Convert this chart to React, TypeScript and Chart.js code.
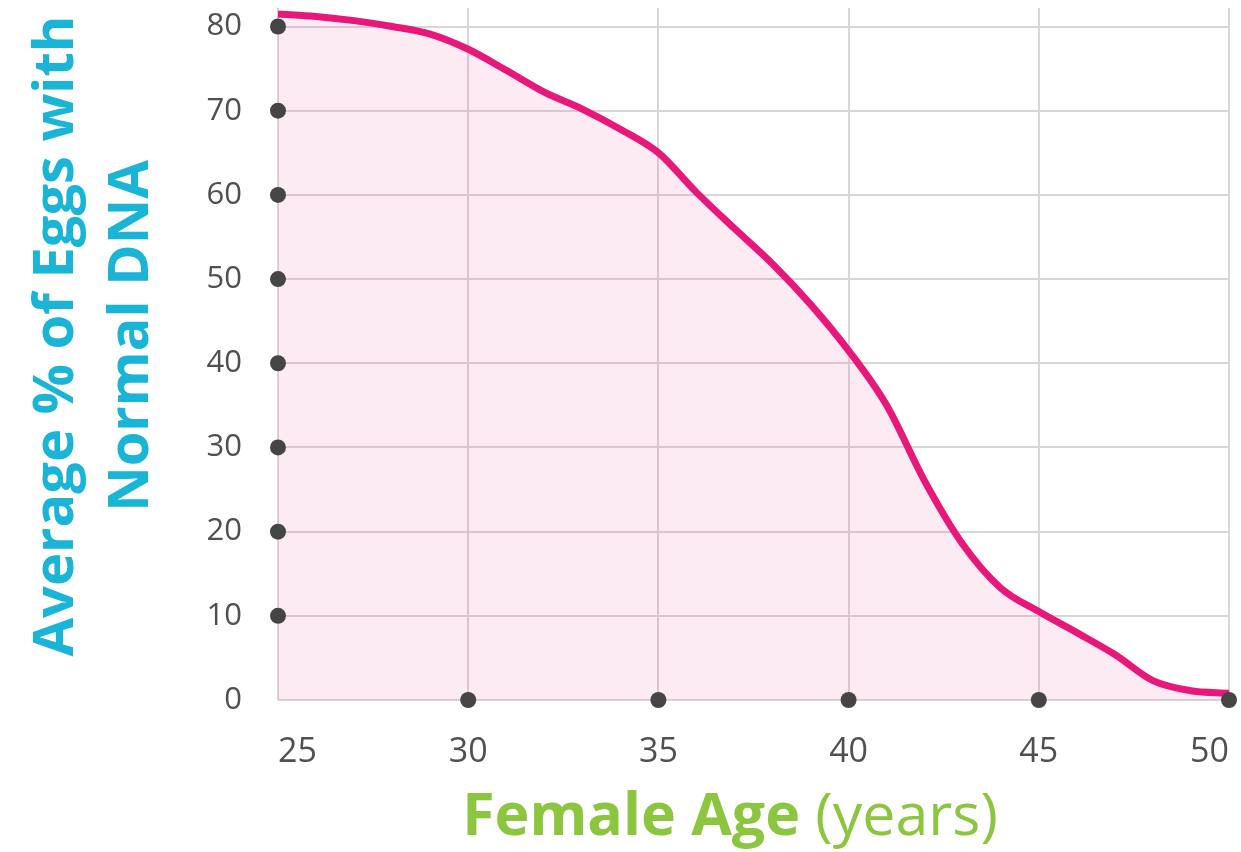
import React, { useEffect, useRef } from "react";
import { Chart, registerables } from "chart.js";

Chart.register(...registerables);

// Female age (years)
const AGES = [25, 26, 27, 28, 29, 30, 31, 32, 33, 34, 35, 36, 37, 38, 39, 40, 41, 42, 43, 44, 45, 46, 47, 48, 49, 50];
// Average % of eggs with normal DNA
const NORMAL_PCT = [81.5, 81.2, 80.7, 80.0, 79.1, 77.3, 74.8, 72.2, 70.2, 67.8, 65.0, 60.3, 56.0, 51.8, 47.0, 41.5, 35.0, 26.0, 18.5, 13.3, 10.5, 8.0, 5.4, 2.3, 1.1, 0.8];

const X_TICKS = [25, 30, 35, 40, 45, 50];
const Y_TICKS = [0, 10, 20, 30, 40, 50, 60, 70, 80];
// decorative dots on the axes
const Y_AXIS_DOTS = [10, 20, 30, 40, 50, 60, 70, 80];
const X_AXIS_DOTS = [30, 35, 40, 45, 50];

const Y_TITLE_LINES = ["Average % of Eggs with", "Normal DNA"];
const X_TITLE_BOLD = "Female Age";
const X_TITLE_LIGHT = "(years)";

const titlePlugin = {
  id: "axisTitles",
  afterDraw(chart: any) {
    const ctx = chart.ctx as CanvasRenderingContext2D;
    // Y title
    ctx.save();
    ctx.fillStyle = "#1ab4d7";
    ctx.font = 'bold 56px "Open Sans"';
    ctx.textAlign = "center";
    ctx.textBaseline = "alphabetic";
    const cy = 336;
    ctx.save();
    ctx.translate(73, cy);
    ctx.rotate(-Math.PI / 2);
    ctx.fillText(Y_TITLE_LINES[0], 0, 0);
    ctx.restore();
    ctx.save();
    ctx.translate(148, cy);
    ctx.rotate(-Math.PI / 2);
    ctx.fillText(Y_TITLE_LINES[1], 0, 0);
    ctx.restore();
    ctx.restore();

    // X title
    ctx.save();
    ctx.fillStyle = "#8cc63f";
    ctx.textBaseline = "alphabetic";
    ctx.textAlign = "left";
    const boldFont = 'bold 59px "Open Sans"';
    const lightFont = '400 59px "Open Sans"';
    ctx.font = boldFont;
    const w1 = ctx.measureText(X_TITLE_BOLD + " ").width;
    ctx.font = lightFont;
    const w2 = ctx.measureText(X_TITLE_LIGHT).width;
    const cx = 730;
    const start = cx - (w1 + w2) / 2;
    ctx.font = boldFont;
    ctx.fillText(X_TITLE_BOLD + " ", start, 835);
    ctx.font = lightFont;
    ctx.fillText(X_TITLE_LIGHT, start + w1, 835);
    ctx.restore();
  },
};

export default function App() {
  const canvasRef = useRef<HTMLCanvasElement | null>(null);

  useEffect(() => {
    if (!canvasRef.current) return;
    const dots = [
      ...Y_AXIS_DOTS.map((y) => ({ x: X_TICKS[0], y })),
      ...X_AXIS_DOTS.map((x) => ({ x, y: 0 })),
    ];
    const chart = new Chart(canvasRef.current, {
      type: "line",
      data: {
        datasets: [
          {
            label: "axis dots",
            data: dots,
            showLine: false,
            pointRadius: 8,
            pointHoverRadius: 8,
            pointBackgroundColor: "#454545",
            pointBorderWidth: 0,
            borderColor: "#454545",
            clip: false,
            order: 0,
          } as any,
          {
            label: "Normal DNA %",
            data: AGES.map((a, i) => ({ x: a, y: NORMAL_PCT[i] })),
            borderColor: "#e8187a",
            borderWidth: 7,
            backgroundColor: "rgba(240, 60, 140, 0.1)",
            fill: "origin",
            pointRadius: 0,
            cubicInterpolationMode: "monotone",
            clip: false,
            order: 1,
          } as any,
        ],
      },
      options: {
        animation: false,
        responsive: false,
        devicePixelRatio: 1,
        layout: { padding: { left: 0, right: 12, top: 0, bottom: 0 } },
        plugins: {
          legend: { display: false },
          tooltip: { enabled: false },
          title: { display: false },
        },
        scales: {
          x: {
            type: "linear",
            min: 25,
            max: 50,
            afterBuildTicks: (scale: any) => {
              scale.ticks = X_TICKS.map((v) => ({ value: v }));
            },
            afterFit: (scale: any) => {
              scale.height = 152;
              scale.paddingLeft = 0;
              scale.paddingRight = 0;
              scale.paddingTop = 0;
              scale.paddingBottom = 0;
            },
            grid: { color: "#d9d6d8", lineWidth: 2, drawTicks: false },
            border: { display: false },
            ticks: {
              align: "inner",
              padding: 32,
              color: "#505050",
              font: { family: '"Open Sans"', size: 34 },
            },
          },
          y: {
            type: "linear",
            min: 0,
            max: 82.2,
            afterBuildTicks: (scale: any) => {
              scale.ticks = Y_TICKS.map((v) => ({ value: v }));
            },
            afterFit: (scale: any) => {
              scale.width = 278;
              scale.paddingLeft = 0;
              scale.paddingRight = 0;
              scale.paddingTop = 0;
              scale.paddingBottom = 0;
            },
            grid: { color: "#d9d6d8", lineWidth: 2, drawTicks: false },
            border: { display: false },
            ticks: {
              padding: 36,
              color: "#505050",
              font: { family: '"Open Sans"', size: 31 },
            },
          },
        },
      } as any,
      plugins: [titlePlugin],
    });
    return () => chart.destroy();
  }, []);

  return (
    <div style={{ position: "absolute", left: 0, top: 0, width: 1241, height: 852, background: "#fff" }}>
      <canvas ref={canvasRef} width={1241} height={852} />
    </div>
  );
}
